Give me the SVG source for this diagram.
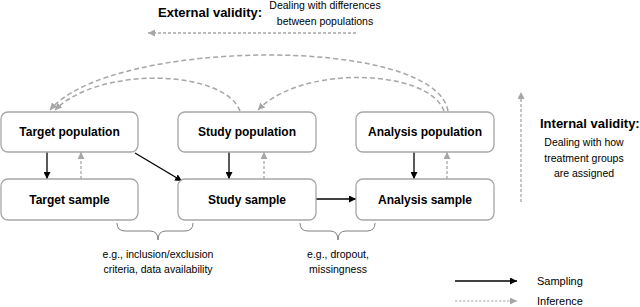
<svg xmlns="http://www.w3.org/2000/svg" width="640" height="307" viewBox="0 0 640 307">
<defs>
<style>
.box{fill:#fff;stroke:#a6a6a6;stroke-width:1.3}
.lbl{font-family:"Liberation Sans",Arial,sans-serif;font-size:12px;font-weight:bold;fill:#000;text-anchor:middle;dominant-baseline:central}
.small{font-family:"Liberation Sans",Arial,sans-serif;font-size:10.5px;fill:#000;text-anchor:middle;dominant-baseline:central}
.head{font-family:"Liberation Sans",Arial,sans-serif;font-size:13px;font-weight:bold;fill:#000;dominant-baseline:central}
.samp{fill:none;stroke:#000;stroke-width:1.3;marker-end:url(#ab)}
.inf{fill:none;stroke:#a6a6a6;stroke-width:1.3;stroke-dasharray:3 2;marker-end:url(#ag)}
.curve{fill:none;stroke:#a6a6a6;stroke-width:1.5;stroke-dasharray:5 3;marker-end:url(#ag)}
.brace{fill:none;stroke:#7f7f7f;stroke-width:1}
</style>
<marker id="ab" viewBox="0 0 10 10" refX="10" refY="5" markerWidth="7" markerHeight="7" markerUnits="userSpaceOnUse" orient="auto"><path d="M0,0 L10,5 L0,10 z" fill="#000"/></marker>
<marker id="ag" viewBox="0 0 10 10" refX="10" refY="5" markerWidth="7" markerHeight="7" markerUnits="userSpaceOnUse" orient="auto"><path d="M0,0 L10,5 L0,10 z" fill="#a6a6a6"/></marker>
</defs>
<rect width="640" height="307" fill="#fff"/>

<g id="connectors">
<path class="samp" d="M47,152 L47,179"/>
<path class="inf" d="M81,179 L81,152"/>
<path class="samp" d="M229,152 L229,179"/>
<path class="inf" d="M264,179 L264,152"/>
<path class="samp" d="M414,152 L414,179"/>
<path class="inf" d="M447,179 L447,152"/>
<path class="samp" d="M135,153 L182,181"/>
<path class="samp" d="M316,199 L356,199"/>
<path class="curve" d="M448,111 C435,35 110,38 50,110"/>
<path class="curve" d="M240,111 C225,70 100,65 55,110"/>
<path class="curve" d="M444,111 C428,68 300,65 258,110"/>
<path class="inf" d="M356,33 L148,33"/>
<path class="inf" d="M521,202 L521,92"/>
</g>

<g id="target-population"><rect class="box" x="1" y="112" width="137" height="40" rx="7"/><text class="lbl" x="69.5" y="132">Target population</text></g>
<g id="study-population"><rect class="box" x="178" y="112" width="138" height="40" rx="7"/><text class="lbl" x="247" y="132">Study population</text></g>
<g id="analysis-population"><rect class="box" x="356" y="112" width="138" height="40" rx="7"/><text class="lbl" x="425" y="132">Analysis population</text></g>
<g id="target-sample"><rect class="box" x="1" y="179" width="137" height="41" rx="7"/><text class="lbl" x="69.5" y="200">Target sample</text></g>
<g id="study-sample"><rect class="box" x="178" y="179" width="138" height="41" rx="7"/><text class="lbl" x="247" y="200">Study sample</text></g>
<g id="analysis-sample"><rect class="box" x="356" y="179" width="138" height="41" rx="7"/><text class="lbl" x="425" y="200">Analysis sample</text></g>

<g id="external-validity">
<text class="head" x="158" y="12">External validity:</text>
<text class="small" x="325" y="5">Dealing with differences</text>
<text class="small" x="325" y="21">between populations</text>
</g>

<g id="internal-validity">
<text class="head" x="540" y="123">Internal validity:</text>
<text class="small" x="584" y="142">Dealing with how</text>
<text class="small" x="584" y="158">treatment groups</text>
<text class="small" x="584" y="173">are assigned</text>
</g>

<g id="brace-left">
<path class="brace" d="M117,223 Q117,231 125,231 L150,231 Q158,231 158,240 Q158,231 166,231 L185,231 Q193,231 193,223"/>
<text class="small" x="158" y="254">e.g., inclusion/exclusion</text>
<text class="small" x="158" y="269">criteria, data availability</text>
</g>
<g id="brace-right">
<path class="brace" d="M300,223 Q300,231 308,231 L330,231 Q338,231 338,240 Q338,231 346,231 L367,231 Q375,231 375,223"/>
<text class="small" x="338" y="254">e.g., dropout,</text>
<text class="small" x="338" y="269">missingness</text>
</g>

<g id="legend">
<path class="samp" d="M455,281 L517,281"/>
<path class="inf" d="M455,301 L517,301" style="stroke-width:1;stroke-dasharray:2.5 1.5"/>
<text class="small" x="537" y="281" style="text-anchor:start;font-size:11px">Sampling</text>
<text class="small" x="537" y="301" style="text-anchor:start;font-size:11px">Inference</text>
</g>
</svg>
